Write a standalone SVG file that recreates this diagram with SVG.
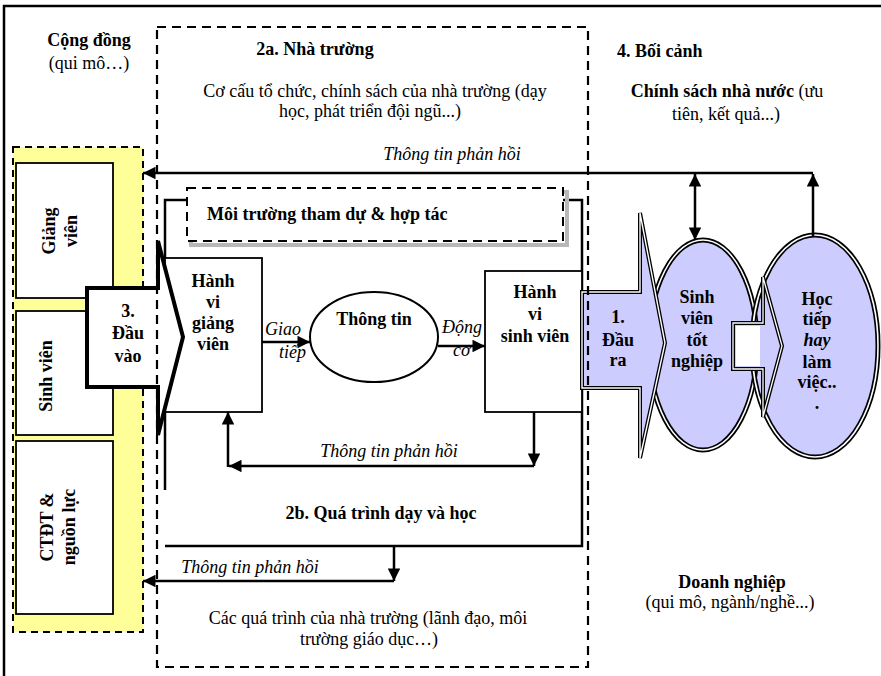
<svg xmlns="http://www.w3.org/2000/svg" width="881" height="676" viewBox="0 0 881 676">
<style>
text{font-family:"Liberation Serif","Times New Roman",serif;font-size:18px;fill:#000}
.b{font-weight:bold}
.i{font-style:italic}
.m{text-anchor:middle}
.ln{stroke:#000;stroke-width:2.5;fill:none}
.box{fill:#fff;stroke:#000;stroke-width:1.8}
.dash{fill:none;stroke:#000;stroke-width:2.2;stroke-dasharray:9 6}
.dblk{stroke:#000;stroke-width:5}
.dblw{fill:none;stroke:#fff;stroke-width:1.6}
.lav{fill:#ccccff}
</style>
<defs>
<marker id="ah" viewBox="0 0 10 10" refX="10" refY="5" markerWidth="5.2" markerHeight="5" orient="auto-start-reverse"><path d="M0,0L10,5L0,10z" fill="#000"/></marker>
</defs>
<rect width="881" height="676" fill="#fff"/>
<path d="M4,676V6H881" fill="none" stroke="#000" stroke-width="2.5"/>

<g id="context">
<text class="b m" x="89" y="46">Cộng đồng</text>
<text class="m" x="89" y="69">(qui mô…)</text>
<text class="b" x="617" y="57">4. Bối cảnh</text>
<text class="m" x="727" y="97"><tspan class="b">Chính sách nhà nước</tspan> (ưu</text>
<text class="m" x="726" y="120">tiên, kết quả...)</text>
<text class="b m" x="732" y="588">Doanh nghiệp</text>
<text class="m" x="730" y="608">(qui mô, ngành/nghề...)</text>
</g>

<g id="inputs">
<rect x="13" y="147" width="130" height="485" fill="#ffff99" stroke="#000" stroke-width="2" stroke-dasharray="7 5"/>
<rect class="box" x="16" y="163" width="97" height="135"/>
<rect class="box" x="16" y="311" width="97" height="124"/>
<rect class="box" x="16" y="441" width="97" height="173"/>
<g transform="translate(0,231) rotate(-90)"><text class="b m" x="0" y="55">Giảng</text><text class="b m" x="0" y="77">viên</text></g>
<g transform="translate(0,376) rotate(-90)"><text class="b m" x="0" y="52">Sinh viên</text></g>
<g transform="translate(0,527) rotate(-90)"><text class="b m" x="0" y="53">CTĐT &amp;</text><text class="b m" x="0" y="75">nguồn lực</text></g>
</g>

<g id="process">
<path d="M187,200H165V490M165,546H582V200H563" fill="none" stroke="#000" stroke-width="2.5"/>
<text class="b m" x="381" y="519">2b. Quá trình dạy và học</text>
</g>

<g id="environment">
<rect x="191" y="192" width="376" height="53" fill="none" stroke="#b8b8b8" stroke-width="4"/>
<rect x="187" y="188" width="376" height="53" fill="#fff" stroke="#000" stroke-width="2" stroke-dasharray="9 6"/>
<text class="b" x="207" y="220">Môi trường tham dự &amp; hợp tác</text>
</g>

<g id="lecturer">
<rect class="box" x="165" y="258" width="97" height="154"/>
<text class="b m" x="213" y="287">Hành</text>
<text class="b m" x="213" y="308">vi</text>
<text class="b m" x="213" y="329">giảng</text>
<text class="b m" x="213" y="350">viên</text>
</g>

<g id="information">
<ellipse cx="374" cy="337" rx="64" ry="45" fill="#fff" stroke="#000" stroke-width="2"/>
<text class="b m" x="374" y="325">Thông tin</text>
</g>

<g id="student">
<rect class="box" x="485" y="271" width="97" height="141"/>
<text class="b m" x="535" y="298">Hành</text>
<text class="b m" x="535" y="320">vi</text>
<text class="b m" x="535" y="342">sinh viên</text>
</g>

<g id="input-arrow">
<path d="M87,288H158V241L183,337L158,435V387H87Z" fill="#fff" stroke="#000" stroke-width="4" stroke-linejoin="miter"/>
<text class="b m" x="128" y="317">3.</text>
<text class="b m" x="128" y="339">Đầu</text>
<text class="b m" x="128" y="362">vào</text>
</g>

<g id="graduates-further">
<ellipse class="lav" cx="703" cy="345" rx="54" ry="105"/>
<ellipse class="lav" cx="815" cy="346" rx="63" ry="111"/>
<ellipse cx="703" cy="345" rx="54" ry="105" fill="none" class="dblk"/>
<ellipse cx="703" cy="345" rx="54" ry="105" class="dblw"/>
<ellipse cx="815" cy="346" rx="63" ry="111" fill="none" class="dblk"/>
<ellipse cx="815" cy="346" rx="63" ry="111" class="dblw"/>
</g>

<g id="output-arrow">
<path d="M582,292H640V213L665,343L640,458V388H582Z" class="lav" stroke="#000" stroke-width="4" stroke-linejoin="miter"/>
<path d="M582,292H640V213L665,343L640,458V388H582Z" fill="none" stroke="#fff" stroke-width="1.4" stroke-linejoin="miter"/>
<text class="b m" x="618" y="323">1.</text>
<text class="b m" x="618" y="346">Đầu</text>
<text class="b m" x="618" y="366">ra</text>
</g>

<g id="link-arrow">
<path d="M733,323H763V277L782,346L763,417V369H733Z" class="lav" stroke="#000" stroke-width="4"/>
<path d="M733,323H763V277L782,346L763,417V369H733Z" fill="none" stroke="#fff" stroke-width="1.3"/>
<rect x="736" y="326" width="24" height="40" fill="#fff"/>
</g>

<g id="graduates">
<text class="b m" x="697" y="303">Sinh</text>
<text class="b m" x="697" y="324">viên</text>
<text class="b m" x="697" y="346">tốt</text>
<text class="b m" x="697" y="367">nghiệp</text>
</g>
<g id="further">
<text class="b m" x="817" y="305">Học</text>
<text class="b m" x="817" y="325">tiếp</text>
<text class="b i m" x="817" y="346">hay</text>
<text class="b m" x="817" y="368">làm</text>
<text class="b m" x="817" y="388">việc..</text>
<text class="b m" x="817" y="409">.</text>
</g>

<g id="school">
<rect class="dash" x="157" y="27" width="431" height="640"/>
<text class="b m" x="315" y="55">2a. Nhà trường</text>
<text class="m" x="375" y="97">Cơ cấu tổ chức, chính sách của nhà trường (dạy</text>
<text class="m" x="370" y="117">học, phát triển đội ngũ...)</text>
<text class="m" x="368" y="624">Các quá trình của nhà trường (lãnh đạo, môi</text>
<text class="m" x="369" y="645">trường giáo dục…)</text>
</g>

<g id="connectors">
<path class="ln" d="M813,173H143" marker-end="url(#ah)"/>
<path class="ln" d="M695,174V240" marker-start="url(#ah)" marker-end="url(#ah)"/>
<path class="ln" d="M813,236V174" marker-end="url(#ah)"/>
<path class="ln" d="M262,342H310" marker-end="url(#ah)"/>
<path class="ln" d="M438,346H485" marker-end="url(#ah)"/>
<path class="ln" d="M534,412V466" marker-end="url(#ah)"/>
<path class="ln" d="M534,466H229" marker-end="url(#ah)"/>
<path class="ln" d="M228,467V412" marker-end="url(#ah)"/>
<path class="ln" d="M394,546V581" marker-end="url(#ah)"/>
<path class="ln" d="M394,581H143" marker-end="url(#ah)"/>
<text class="i m" x="452" y="160">Thông tin phản hồi</text>
<text class="i m" x="389" y="457">Thông tin phản hồi</text>
<text class="i m" x="250" y="573">Thông tin phản hồi</text>
<text class="i" x="265" y="335">Giao</text>
<text class="i" x="279" y="358">tiếp</text>
<text class="i" x="442" y="333">Động</text>
<text class="i" x="453" y="356">cơ</text>
</g>
</svg>
